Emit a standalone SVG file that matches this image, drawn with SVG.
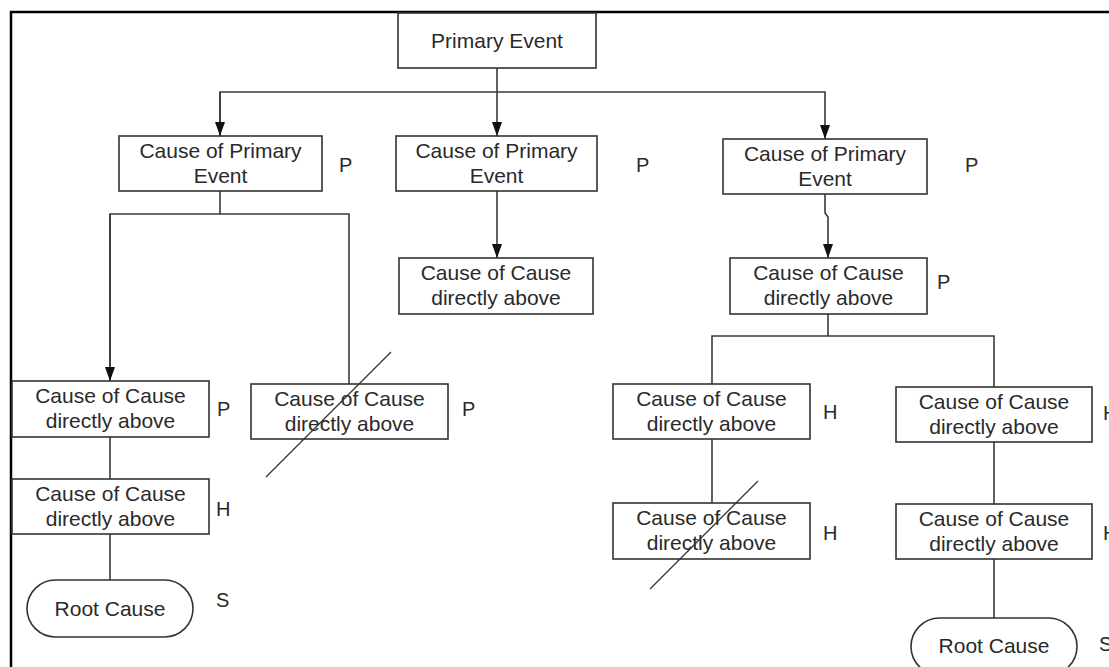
<svg xmlns="http://www.w3.org/2000/svg" width="1109" height="667" viewBox="0 0 1109 667">
  <style>
    .box { fill: #ffffff; stroke: #333333; stroke-width: 1.6; }
    .lbl { font-family: "Liberation Sans", Arial, sans-serif; font-size: 21px; fill: #2a2a2a; text-anchor: middle; }
    .tag { font-family: "Liberation Sans", Arial, sans-serif; font-size: 20px; fill: #2a2a2a; }
    .wire { fill: none; stroke: #3a3a3a; stroke-width: 1.6; }
    .strike { stroke: #333333; stroke-width: 1.3; }
  </style>
  <defs>
    <marker id="arrow" viewBox="0 0 14 10" refX="14" refY="5" markerWidth="14" markerHeight="10" markerUnits="userSpaceOnUse" orient="auto">
      <path d="M0,0 L14,5 L0,10 Z" fill="#111111"/>
    </marker>
  </defs>

  <rect width="1109" height="667" fill="#ffffff"/>
  <!-- outer frame (right and bottom edges lie outside the canvas) -->
  <path d="M11,667 V12 H1109" fill="none" stroke="#000000" stroke-width="2.5"/>

  <g id="connectors">
    <path class="wire" d="M497,68 V136" marker-end="url(#arrow)"/>
    <path class="wire" d="M220,136 V92 H825 V139" marker-end="url(#arrow)"/>
    <path class="wire" d="M220,92 V136" marker-end="url(#arrow)"/>
    <path class="wire" d="M220,191 V214"/>
    <path class="wire" d="M110,381 V214 H349 V384"/>
    <path class="wire" d="M110,214 V381" marker-end="url(#arrow)"/>
    <path class="wire" d="M110,437 V479"/>
    <path class="wire" d="M110,534 V580"/>
    <path class="wire" d="M497,191 V258" marker-end="url(#arrow)"/>
    <path class="wire" d="M825,194 V213 L828,217 V258" marker-end="url(#arrow)"/>
    <path class="wire" d="M828,314 V336"/>
    <path class="wire" d="M712,384 V336 H994 V387"/>
    <path class="wire" d="M712,439 V503"/>
    <path class="wire" d="M994,442 V504"/>
    <path class="wire" d="M994,559 V618"/>
  </g>

  <g id="primary-event">
    <rect class="box" x="398" y="13" width="198" height="55"/>
    <text class="lbl" x="497" y="48">Primary Event</text>
  </g>

  <g id="cause-left">
    <rect class="box" x="119" y="136" width="203" height="55"/>
    <text class="lbl" x="220.5" y="158">Cause of Primary</text>
    <text class="lbl" x="220.5" y="183">Event</text>
    <text class="tag" x="339" y="172">P</text>
  </g>

  <g id="cause-middle">
    <rect class="box" x="396" y="136" width="201" height="55"/>
    <text class="lbl" x="496.5" y="158">Cause of Primary</text>
    <text class="lbl" x="496.5" y="183">Event</text>
    <text class="tag" x="636" y="172">P</text>
  </g>

  <g id="cause-right">
    <rect class="box" x="723" y="139" width="204" height="55"/>
    <text class="lbl" x="825" y="161">Cause of Primary</text>
    <text class="lbl" x="825" y="186">Event</text>
    <text class="tag" x="965" y="172">P</text>
  </g>

  <g id="middle-sub">
    <rect class="box" x="399" y="258" width="194" height="56"/>
    <text class="lbl" x="496" y="280">Cause of Cause</text>
    <text class="lbl" x="496" y="305">directly above</text>
  </g>

  <g id="right-sub">
    <rect class="box" x="730" y="258" width="197" height="56"/>
    <text class="lbl" x="828.5" y="280">Cause of Cause</text>
    <text class="lbl" x="828.5" y="305">directly above</text>
    <text class="tag" x="937" y="289">P</text>
  </g>

  <g id="left-a">
    <rect class="box" x="12" y="381" width="197" height="56"/>
    <text class="lbl" x="110.5" y="403">Cause of Cause</text>
    <text class="lbl" x="110.5" y="428">directly above</text>
    <text class="tag" x="217" y="416">P</text>
  </g>

  <g id="left-struck">
    <rect class="box" x="251" y="384" width="197" height="55"/>
    <text class="lbl" x="349.5" y="406">Cause of Cause</text>
    <text class="lbl" x="349.5" y="431">directly above</text>
    <text class="tag" x="462" y="416">P</text>
    <line class="strike" x1="391" y1="352" x2="266" y2="477"/>
  </g>

  <g id="right-h1">
    <rect class="box" x="613" y="384" width="197" height="55"/>
    <text class="lbl" x="711.5" y="406">Cause of Cause</text>
    <text class="lbl" x="711.5" y="431">directly above</text>
    <text class="tag" x="823" y="419">H</text>
  </g>

  <g id="right-h2">
    <rect class="box" x="896" y="387" width="196" height="55"/>
    <text class="lbl" x="994" y="409">Cause of Cause</text>
    <text class="lbl" x="994" y="434">directly above</text>
    <text class="tag" x="1103" y="420">H</text>
  </g>

  <g id="left-b">
    <rect class="box" x="12" y="479" width="197" height="55"/>
    <text class="lbl" x="110.5" y="501">Cause of Cause</text>
    <text class="lbl" x="110.5" y="526">directly above</text>
    <text class="tag" x="216" y="516">H</text>
  </g>

  <g id="right-struck">
    <rect class="box" x="613" y="503" width="197" height="56"/>
    <text class="lbl" x="711.5" y="525">Cause of Cause</text>
    <text class="lbl" x="711.5" y="550">directly above</text>
    <text class="tag" x="823" y="540">H</text>
    <line class="strike" x1="758" y1="481" x2="650" y2="589"/>
  </g>

  <g id="right-h3">
    <rect class="box" x="896" y="504" width="196" height="55"/>
    <text class="lbl" x="994" y="526">Cause of Cause</text>
    <text class="lbl" x="994" y="551">directly above</text>
    <text class="tag" x="1103" y="540">H</text>
  </g>

  <g id="root-left">
    <rect class="box" x="27" y="580" width="166" height="57" rx="28.5" ry="28.5"/>
    <text class="lbl" x="110" y="616">Root Cause</text>
    <text class="tag" x="216" y="607">S</text>
  </g>

  <g id="root-right">
    <rect class="box" x="911" y="618" width="166" height="57" rx="28.5" ry="28.5"/>
    <text class="lbl" x="994" y="653">Root Cause</text>
    <text class="tag" x="1099" y="651">S</text>
  </g>
</svg>
